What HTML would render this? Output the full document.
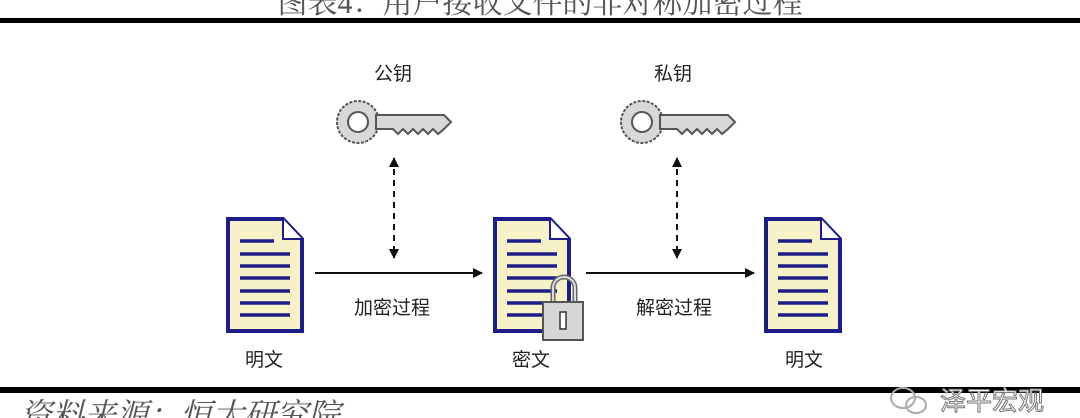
<!DOCTYPE html>
<html><head><meta charset="utf-8"><style>
html,body{margin:0;padding:0;background:#fff;}
body{width:1080px;height:418px;overflow:hidden;position:relative;}
svg{position:absolute;left:0;top:0;}
</style></head><body>
<svg width="1080" height="418" viewBox="0 0 1080 418" xmlns="http://www.w3.org/2000/svg">
<defs>
<g id="doc">
  <path d="M0,0 H55 L74,20 V112 H0 Z" fill="#f7f1c8" stroke="#1d1d8a" stroke-width="4"/>
  <path d="M55,0 V20 H74" fill="#fff" stroke="#1d1d8a" stroke-width="2"/>
  <g stroke="#1d1d8a" stroke-width="3.5">
    <line x1="12" y1="22" x2="46" y2="22"/>
    <line x1="12" y1="35" x2="62" y2="35"/>
    <line x1="12" y1="47" x2="62" y2="47"/>
    <line x1="12" y1="59" x2="62" y2="59"/>
    <line x1="12" y1="72" x2="62" y2="72"/>
    <line x1="12" y1="84" x2="62" y2="84"/>
    <line x1="12" y1="96" x2="62" y2="96"/>
  </g>
</g>
<g id="key">
  <circle cx="22" cy="22" r="21" fill="#d8d8d8" stroke="#555" stroke-width="2" stroke-dasharray="3 1.5"/>
  <path d="M40,15 H108 L115,22 L108,29 L102,34 L97,29 L92,34 L87,29 L82,34 L77,29 L72,34 L67,29 L62,34 L57,29 H40 Z" fill="#d8d8d8" stroke="#555" stroke-width="2"/>
  <circle cx="22" cy="22" r="10" fill="#fff" stroke="#555" stroke-width="2"/>
</g>
<marker id="ah" markerWidth="10" markerHeight="10" refX="9" refY="5" orient="auto-start-reverse" markerUnits="userSpaceOnUse">
  <path d="M0,0 L10,5 L0,10 Z" fill="#111"/>
</marker>
</defs>

<text x="540" y="13" text-anchor="middle" font-family="'Liberation Serif','Noto Serif CJK SC',serif" font-size="30" fill="#555">图表4：用户接收文件的非对称加密过程</text>
<rect x="0" y="18" width="1080" height="5" fill="#000"/>
<rect x="0" y="387" width="1080" height="6" fill="#000"/>

<g font-family="'Liberation Sans','Noto Sans CJK SC',sans-serif" font-size="19" fill="#222" text-anchor="middle">
  <text x="393" y="80">公钥</text>
  <text x="673" y="80">私钥</text>
  <text x="392" y="314">加密过程</text>
  <text x="674" y="314">解密过程</text>
  <text x="264" y="366">明文</text>
  <text x="531" y="366">密文</text>
  <text x="804" y="366">明文</text>
</g>

<use href="#key" x="336" y="100"/>
<use href="#key" x="620" y="100"/>

<g stroke="#111" stroke-width="2" stroke-dasharray="6 5">
  <line x1="394" y1="158" x2="394" y2="258" marker-start="url(#ah)" marker-end="url(#ah)"/>
  <line x1="677" y1="158" x2="677" y2="258" marker-start="url(#ah)" marker-end="url(#ah)"/>
</g>
<line x1="315" y1="273" x2="482" y2="273" stroke="#111" stroke-width="2" marker-end="url(#ah)"/>
<line x1="586" y1="273" x2="754" y2="273" stroke="#111" stroke-width="2" marker-end="url(#ah)"/>

<use href="#doc" x="228" y="219"/>
<use href="#doc" x="495" y="219"/>
<use href="#doc" x="766" y="219"/>

<path d="M553,302 V288 A11,11 0 0 1 575,288 V302" fill="none" stroke="#666" stroke-width="5"/>
<path d="M553,302 V288 A11,11 0 0 1 575,288 V302" fill="none" stroke="#ddd" stroke-width="2"/>
<rect x="543" y="302" width="40" height="38" fill="#d6d6d6" stroke="#555" stroke-width="2"/>
<rect x="560" y="312" width="6" height="17" fill="#fff" stroke="#333" stroke-width="1.5"/>

<text x="20" y="426" font-family="'Liberation Serif','Noto Serif CJK SC',serif" font-style="italic" font-size="32" fill="#555">资料来源：恒大研究院</text>
<g fill="none" stroke="#aaa" stroke-width="2">
  <ellipse cx="903" cy="398" rx="12" ry="10"/>
  <ellipse cx="916" cy="405" rx="10" ry="8"/>
</g>
<text x="940" y="410" font-family="'Liberation Sans','Noto Sans CJK SC',sans-serif" font-size="26" fill="#fff" stroke="#777" stroke-width="1">泽平宏观</text>
</svg>
</body></html>
